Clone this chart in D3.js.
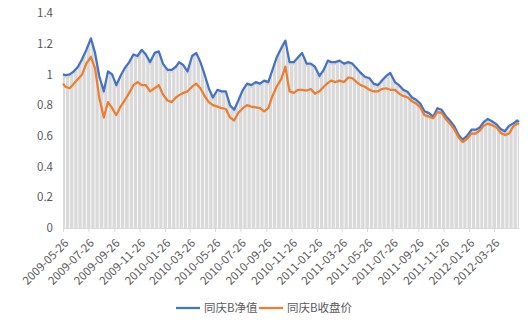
<!DOCTYPE html>
<html>
<head>
<meta charset="utf-8">
<script src="https://cdn.jsdelivr.net/npm/d3@7"></script>
<style>
  body { margin: 0; background: #fff; }
  text { font-family: "Noto Sans CJK SC", "Microsoft YaHei", sans-serif; fill: #595959; }
</style>
</head>
<body>
<div id="chart"></div>
<script>
// sampled on the 1st, 11th and 21st of each month
const dates = [
  "2009-05-26","2009-06-01","2009-06-11","2009-06-21","2009-07-01","2009-07-11","2009-07-21","2009-08-01","2009-08-11","2009-08-21",
  "2009-09-01","2009-09-11","2009-09-21","2009-10-01","2009-10-11","2009-10-21","2009-11-01","2009-11-11","2009-11-21","2009-12-01",
  "2009-12-11","2009-12-21",
  "2010-01-01","2010-01-11","2010-01-21","2010-02-01","2010-02-11","2010-02-21","2010-03-01","2010-03-11","2010-03-21","2010-04-01",
  "2010-04-11","2010-04-21","2010-05-01","2010-05-11","2010-05-21","2010-06-01","2010-06-11","2010-06-21","2010-07-01","2010-07-11",
  "2010-07-21","2010-08-01","2010-08-11","2010-08-21","2010-09-01","2010-09-11","2010-09-21","2010-10-01","2010-10-11","2010-10-21",
  "2010-11-01","2010-11-11","2010-11-21","2010-12-01","2010-12-11","2010-12-21",
  "2011-01-01","2011-01-11","2011-01-21","2011-02-01","2011-02-11","2011-02-21","2011-03-01","2011-03-11","2011-03-21","2011-04-01",
  "2011-04-11","2011-04-21","2011-05-01","2011-05-11","2011-05-21","2011-06-01","2011-06-11","2011-06-21","2011-07-01","2011-07-11",
  "2011-07-21","2011-08-01","2011-08-11","2011-08-21","2011-09-01","2011-09-11","2011-09-21","2011-10-01","2011-10-11","2011-10-21",
  "2011-11-01","2011-11-11","2011-11-21","2011-12-01","2011-12-11","2011-12-21",
  "2012-01-01","2012-01-11","2012-01-21","2012-02-01","2012-02-11","2012-02-21","2012-03-01","2012-03-11","2012-03-21","2012-04-01",
  "2012-04-11","2012-04-21","2012-05-01","2012-05-11","2012-05-21","2012-05-25"
];

const navB = [
  1.00, 0.995, 1.00, 1.02, 1.05, 1.10, 1.16, 1.235, 1.14, 0.99,
  0.89, 1.02, 1.00, 0.93, 0.99, 1.04, 1.08, 1.13, 1.12, 1.16,
  1.13, 1.08,
  1.14, 1.15, 1.07, 1.03, 1.03, 1.05, 1.08, 1.06, 1.02, 1.12,
  1.14, 1.08, 1.00, 0.91, 0.85, 0.90, 0.89, 0.89, 0.80, 0.77,
  0.83, 0.90, 0.94, 0.93, 0.95, 0.94, 0.96, 0.95, 1.03, 1.11,
  1.17, 1.22, 1.08, 1.08, 1.11, 1.14,
  1.07, 1.07, 1.05, 0.99, 1.03, 1.09, 1.08, 1.08, 1.09, 1.07,
  1.08, 1.07, 1.04, 1.01, 0.985, 0.975, 0.94, 0.93, 0.96, 0.99,
  1.01, 0.95, 0.93, 0.90, 0.885, 0.85, 0.835, 0.81, 0.76, 0.75,
  0.725, 0.78, 0.77, 0.73, 0.70, 0.665,
  0.605, 0.575, 0.60, 0.64, 0.64, 0.655, 0.69, 0.71, 0.695, 0.675,
  0.645, 0.63, 0.665, 0.68, 0.70, 0.69
];

const closeB = [
  0.94, 0.92, 0.91, 0.94, 0.97, 1.00, 1.07, 1.115, 1.04, 0.85,
  0.72, 0.82, 0.78, 0.735, 0.79, 0.83, 0.88, 0.93, 0.95, 0.93,
  0.93, 0.89,
  0.91, 0.93, 0.87, 0.83, 0.82, 0.85, 0.865, 0.88, 0.89, 0.92,
  0.94, 0.91, 0.86, 0.82, 0.80, 0.79, 0.78, 0.775, 0.72, 0.70,
  0.75, 0.78, 0.80, 0.79, 0.785, 0.78, 0.76, 0.78, 0.86, 0.92,
  0.97, 1.05, 0.89, 0.88, 0.90, 0.90,
  0.895, 0.905, 0.875, 0.89, 0.92, 0.945, 0.96, 0.95, 0.96, 0.95,
  0.98, 0.975, 0.95, 0.93, 0.92, 0.90, 0.89, 0.89, 0.905, 0.91,
  0.90, 0.90, 0.875, 0.86, 0.85, 0.825, 0.81, 0.785, 0.735, 0.725,
  0.715, 0.755, 0.75, 0.71, 0.68, 0.645,
  0.59, 0.56, 0.58, 0.615, 0.615, 0.635, 0.665, 0.68, 0.67, 0.655,
  0.62, 0.605, 0.615, 0.66, 0.68, 0.675
];

const seriesNames = ["同庆B净值", "同庆B收盘价"];
const seriesColors = ["#4472c4", "#ed7d31"];
const yTicks = [0, 0.2, 0.4, 0.6, 0.8, 1, 1.2, 1.4];
const xTicks = [
  "2009-05-26","2009-07-26","2009-09-26","2009-11-26","2010-01-26","2010-03-26",
  "2010-05-26","2010-07-26","2010-09-26","2010-11-26","2011-01-26","2011-03-26",
  "2011-05-26","2011-07-26","2011-09-26","2011-11-26","2012-01-26","2012-03-26"
];

const W = 532, H = 330;
const margin = { top: 13, right: 13, bottom: 102, left: 63 };
const width = W - margin.left - margin.right,
      height = H - margin.top - margin.bottom;

const parse = d3.timeParse("%Y-%m-%d");
const data = dates.map((d, i) => ({ date: parse(d), nav: navB[i], close: closeB[i] }));

const svg = d3.select("#chart").append("svg")
    .attr("width", W)
    .attr("height", H)
  .append("g")
    .attr("transform", `translate(${margin.left},${margin.top})`);

const x = d3.scaleTime()
  .domain(d3.extent(data, d => d.date))
  .range([0, width]);

const y = d3.scaleLinear()
  .domain([0, 1.4])
  .range([height, 0]);

// grey fill under the higher line, split by thin white gaps
svg.append("path")
  .datum(data)
  .attr("fill", "#d9d9d9")
  .attr("d", d3.area()
    .x(d => x(d.date))
    .y0(y(0))
    .y1(d => y(Math.max(d.nav, d.close))));

svg.append("g")
  .selectAll("line")
  .data(data.slice(1, -1))
  .join("line")
    .attr("x1", d => x(d.date))
    .attr("x2", d => x(d.date))
    .attr("y1", y(0))
    .attr("y2", d => y(Math.max(d.nav, d.close)) + 3)
    .attr("stroke", "#fff")
    .attr("stroke-opacity", 0.85)
    .attr("stroke-width", 1);

// axes
svg.append("g")
  .call(d3.axisLeft(y).tickValues(yTicks).tickFormat(d3.format("~g")).tickSize(0))
  .call(g => g.select(".domain").remove())
  .call(g => g.selectAll("text").attr("x", -10).attr("font-size", 11.5).style("font-family", null));

const xAxis = svg.append("g")
  .attr("transform", `translate(0,${height})`)
  .call(d3.axisBottom(x).tickValues(xTicks.map(parse)).tickFormat(d3.timeFormat("%Y-%m-%d"))
    .tickSizeInner(4).tickSizeOuter(0));

xAxis.select(".domain").attr("stroke", "#d9d9d9");
xAxis.selectAll(".tick line").attr("stroke", "#d9d9d9");
xAxis.selectAll("text")
  .attr("font-size", 11.5)
  .style("font-family", null)
  .attr("text-anchor", "end")
  .attr("x", 0).attr("y", 0).attr("dy", "0.35em")
  .attr("transform", "translate(3,13) rotate(-45)");

// lines
const keys = ["nav", "close"];
keys.forEach((k, i) => {
  svg.append("path")
    .datum(data)
    .attr("fill", "none")
    .attr("stroke", seriesColors[i])
    .attr("stroke-width", 2.25)
    .attr("stroke-linejoin", "round")
    .attr("d", d3.line().x(d => x(d.date)).y(d => y(d[k])));
});

// legend
const legend = d3.select("svg").append("g")
  .attr("transform", `translate(176,${H - 22})`);

const legendX = [0, 83];
const item = legend.selectAll("g")
  .data(seriesNames)
  .join("g")
    .attr("transform", (d, i) => `translate(${legendX[i]},0)`);

item.append("line")
  .attr("x1", 0).attr("x2", 24)
  .attr("stroke", (d, i) => seriesColors[i])
  .attr("stroke-width", 2.25);

item.append("text")
  .attr("x", 28)
  .attr("dy", "0.35em")
  .attr("font-size", 11.5)
  .text(d => d);
</script>
</body>
</html>
